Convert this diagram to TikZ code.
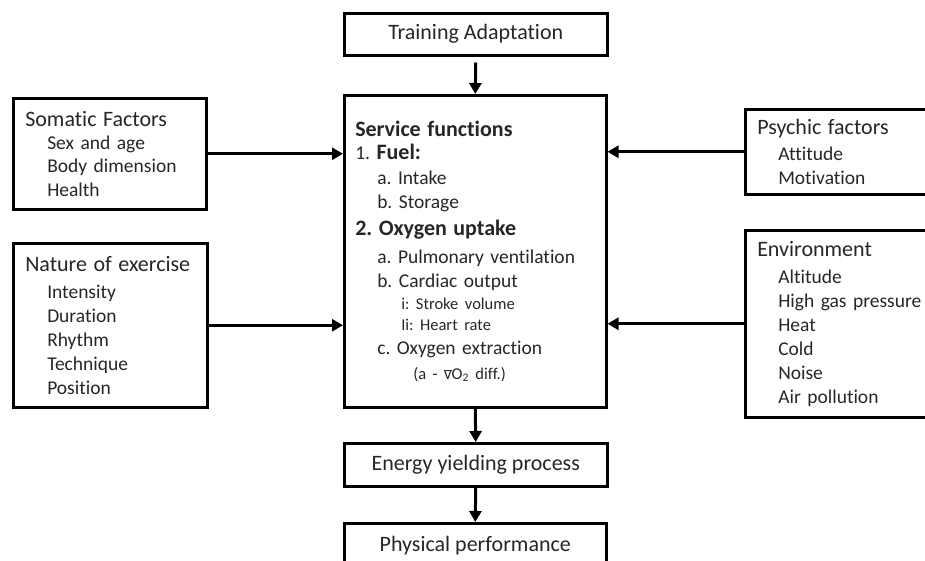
\documentclass[tikz,border=0pt]{standalone}
\usepackage{fontspec}
\setmainfont[Ligatures={NoCommon,NoRare,NoContextual}]{Carlito}
\usetikzlibrary{arrows.meta}

\frenchspacing
\newcommand{\boxhead}{\fontsize{22}{24}\selectfont}
\newcommand{\boxitem}{\fontsize{19.5}{24}\selectfont}
\newcommand{\boxsmall}{\fontsize{16.5}{24}\selectfont}

\begin{document}
\begin{tikzpicture}[x=1pt, y=-1pt,
        box/.style={draw, line width=2.5pt, anchor=north west, inner xsep=12pt, inner ysep=0pt, text=black!85, align=left},
        flow/.style={line width=3pt, -{Triangle[length=11pt, width=12pt]}}]
                \useasboundingbox (0,0) rectangle (925,560);
                \node[box, align=center, minimum width=263pt, minimum height=42pt, font=\boxhead] (train) at (343,12) {Training Adaptation};
                \node[box, minimum width=262pt, minimum height=312pt, text width=240pt, inner xsep=11pt, font=\boxitem] (serv) at (343,94) {%
                    {\boxhead\bfseries Service functions}\\[-1pt]
                    1. {\boxhead\bfseries Fuel:}\\[1pt]
                    \hspace*{22pt}a. Intake\\
                    \hspace*{22pt}b. Storage\\[3pt]
                    {\boxhead\bfseries 2. Oxygen uptake}\\[4pt]
                    \hspace*{22pt}a. Pulmonary ventilation\\
                    \hspace*{22pt}b. Cardiac output\\[-2pt]
                    \hspace*{46pt}{\boxsmall i: Stroke volume}\\[-3pt]
                    \hspace*{46pt}{\boxsmall Ii: Heart rate}\\
                    \hspace*{22pt}c. Oxygen extraction\\[1pt]
                    \hspace*{58pt}{\boxsmall (a - $\overline{\mbox{v}}$O\textsubscript{2} diff.)}};
                \node[box, align=center, minimum width=263pt, minimum height=43pt, font=\boxhead] (energy) at (343,442) {Energy yielding process};
                \node[box, align=center, minimum width=262pt, minimum height=45pt, font=\boxhead] (phys) at (343,522) {Physical performance};
                \node[box, minimum width=193pt, minimum height=111pt, text width=169pt, font=\boxitem] (somatic) at (12,97) {%
                    {\boxhead Somatic Factors}\\[-1pt]
                    \hspace*{22pt}Sex and age\\[-1pt]
                    \hspace*{22pt}Body dimension\\
                    \hspace*{22pt}Health};
                \node[box, minimum width=194pt, minimum height=164pt, text width=170pt, font=\boxitem] (nature) at (12,242) {%
                    {\boxhead Nature of exercise}\\[2.5pt]
                    \hspace*{22pt}Intensity\\
                    \hspace*{22pt}Duration\\
                    \hspace*{22pt}Rhythm\\
                    \hspace*{22pt}Technique\\
                    \hspace*{22pt}Position};
                \node[box, minimum width=190pt, minimum height=85pt, text width=166pt, inner xsep=12pt, font=\boxitem] (psychic) at (744,108) {%
                    {\boxhead Psychic factors}\\[2pt]
                    \hspace*{21pt}Attitude\\
                    \hspace*{21pt}Motivation};
                \node[box, minimum width=190pt, minimum height=187pt, text width=166pt, font=\boxitem] (env) at (744,229) {%
                    {\boxhead Environment}\\[2.5pt]
                    \hspace*{21pt}Altitude\\
                    \hspace*{21pt}High gas pressure\\
                    \hspace*{21pt}Heat\\
                    \hspace*{21pt}Cold\\
                    \hspace*{21pt}Noise\\
                    \hspace*{21pt}Air pollution};
                \draw[flow] ([yshift=-6pt]train.south) -- (serv.north);
                \draw[flow] (serv.south) -- (energy.north);
                \draw[flow] (energy.south) -- (phys.north);
                \draw[flow] (somatic.east) -- (somatic.east -| serv.west);
                \draw[flow] (nature.east) -- (nature.east -| serv.west);
                \draw[flow] (psychic.west) -- (psychic.west -| serv.east);
                \draw[flow] (env.west) -- (env.west -| serv.east);
            \end{tikzpicture}
\end{document}
